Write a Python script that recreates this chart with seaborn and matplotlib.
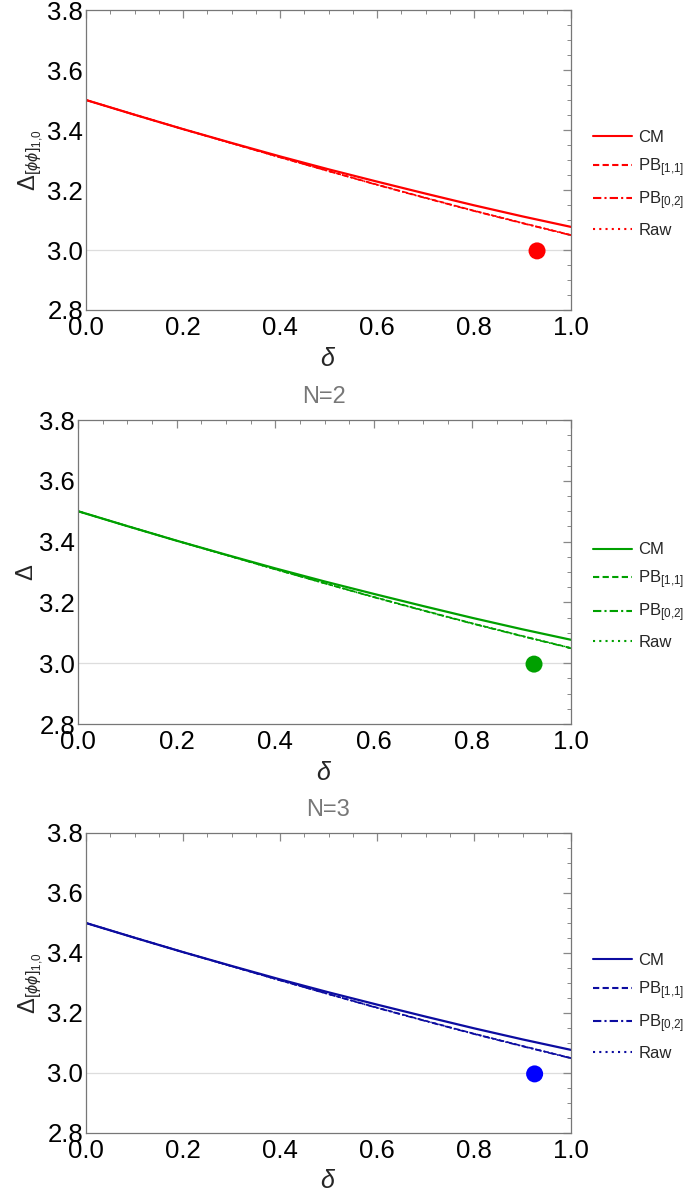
import numpy as np
import pandas as pd
import seaborn as sns
import matplotlib.pyplot as plt
from matplotlib.ticker import MultipleLocator

# data
delta = [0.0, 0.1, 0.2, 0.3, 0.4, 0.5, 0.6, 0.7, 0.8, 0.9, 1.0]
cm = [3.500, 3.451, 3.403, 3.357, 3.312, 3.269, 3.228, 3.188, 3.149, 3.112, 3.077]
pb11 = [3.500, 3.451, 3.403, 3.356, 3.309, 3.263, 3.218, 3.174, 3.131, 3.090, 3.050]
pb02 = [3.500, 3.451, 3.403, 3.356, 3.309, 3.263, 3.217, 3.173, 3.130, 3.089, 3.049]
raw = [3.500, 3.451, 3.403, 3.356, 3.309, 3.263, 3.218, 3.174, 3.131, 3.090, 3.050]
series = ["CM", "PB$_{[1{,}1]}$", "PB$_{[0{,}2]}$", "Raw"]

dot_x = [0.93, 0.925, 0.925]
dot_y = [2.997, 2.997, 2.997]

titles = ["", "N=2", "N=3"]
ylabels = [r"$\Delta_{[\phi\phi]_{1{,}0}}$", r"$\Delta$", r"$\Delta_{[\phi\phi]_{1{,}0}}$"]
line_colors = ["#ff0000", "#00a000", "#0c0ca0"]
dot_colors = ["#ff0000", "#00a000", "#0000ff"]

sns.set_theme(style="white")
plt.rcParams['font.family'] = ['Liberation Sans', 'DejaVu Sans']
plt.rcParams['mathtext.fontset'] = 'custom'
plt.rcParams['mathtext.rm'] = 'Liberation Sans'
plt.rcParams['mathtext.it'] = 'Liberation Sans:italic'

df = pd.DataFrame({"delta": delta * 4,
                   "value": cm + pb11 + pb02 + raw,
                   "series": [s for s in series for _ in delta]})

fig = plt.figure(figsize=(6.92, 12), dpi=100)
boxes = [[86 / 692, 1 - 310 / 1200, 485 / 692, 300 / 1200],
         [78 / 692, 1 - 724 / 1200, 493 / 692, 304 / 1200],
         [86 / 692, 1 - 1133 / 1200, 485 / 692, 300 / 1200]]
dashes = {series[0]: "", series[1]: (3, 1.6), series[2]: (4, 1.5, 1, 1.5), series[3]: (1, 2)}
widths = [1.6, 1.2, 1.2, 1.0]

for i in range(3):
    ax = fig.add_axes(boxes[i])
    ax.axhline(3.0, color="#dddddd", lw=0.9, zorder=0)
    sns.lineplot(data=df, x="delta", y="value", hue="series", style="series",
                 palette=[line_colors[i]] * 4, dashes=dashes, ax=ax, legend=True)
    for ln, w in zip(ax.lines[1:], widths):
        ln.set_linewidth(w)
    sns.scatterplot(x=[dot_x[i]], y=[dot_y[i]], color=dot_colors[i], s=150,
                    edgecolor="none", ax=ax, zorder=5)
    ax.set_xlim(0, 1)
    ax.set_ylim(2.8, 3.8)
    ax.xaxis.set_major_locator(MultipleLocator(0.2))
    ax.xaxis.set_minor_locator(MultipleLocator(0.05))
    ax.yaxis.set_major_locator(MultipleLocator(0.2))
    ax.yaxis.set_minor_locator(MultipleLocator(0.05))
    ax.xaxis.set_major_formatter(plt.FormatStrFormatter("%.1f"))
    ax.yaxis.set_major_formatter(plt.FormatStrFormatter("%.1f"))
    ax.tick_params(which="both", direction="in", top=True, right=True,
                   color="#888888", labelsize=18.5, labelcolor="black")
    ax.tick_params(which="major", length=6, width=0.9)
    ax.tick_params(axis="x", which="major", pad=4)
    ax.tick_params(axis="y", which="major", pad=2)
    ax.tick_params(which="minor", length=3, width=0.7)
    for sp in ax.spines.values():
        sp.set_color("#777777")
        sp.set_linewidth(0.9)
    ax.set_xlabel(r"$\delta$", fontsize=18, labelpad=5)
    ax.set_ylabel(ylabels[i], fontsize=17, labelpad=1)
    if titles[i]:
        ax.set_title(titles[i], color="#777777", fontsize=17, pad=12)
    ax.legend(loc="center left", bbox_to_anchor=(1.015, 0.42), frameon=False,
              fontsize=12, handlelength=2.3, handletextpad=0.4,
              labelspacing=0.65, title=None)

plt.savefig("out.png", dpi=100)
